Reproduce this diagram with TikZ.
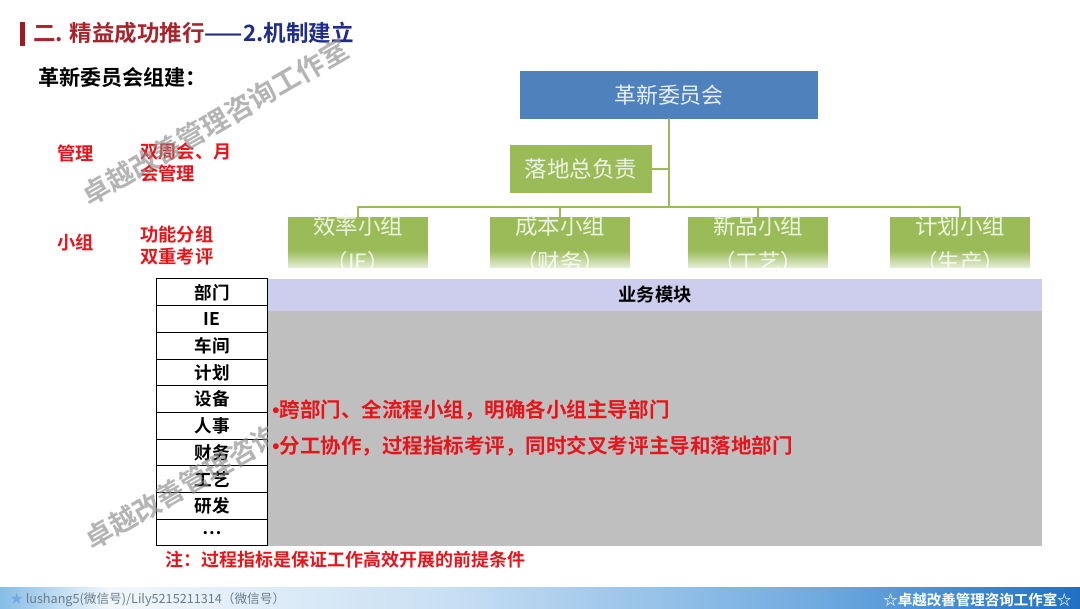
\documentclass[tikz,border=0pt]{standalone}
\usepackage{fontspec}
\setmainfont{Noto Sans CJK SC}[BoldFont={Noto Sans CJK SC Bold}]
\newfontfamily\latinfont{Liberation Sans}
\usetikzlibrary{fadings}

\definecolor{titleRed}{HTML}{A8232B}
\definecolor{titleBlue}{HTML}{1F2D8A}
\definecolor{titleBar}{HTML}{9E1B20}
\definecolor{boardBlue}{HTML}{4F81BD}
\definecolor{leafGreen}{HTML}{9BBB59}
\definecolor{leafText}{HTML}{EEF4E2}
\definecolor{boardText}{HTML}{E8EEF8}
\definecolor{alertRed}{HTML}{E8141B}
\definecolor{modLavender}{HTML}{CDCDEE}
\definecolor{modGray}{HTML}{BFBFBF}
\definecolor{markGray}{HTML}{8C8C8C}
\definecolor{footL}{HTML}{86BDE7}
\definecolor{footW}{HTML}{F2F7FC}
\definecolor{footM}{HTML}{C8DFF3}
\definecolor{footB}{HTML}{6FAAE0}
\definecolor{footD}{HTML}{1E70C2}
\definecolor{footText}{HTML}{6B7C8C}

\tikzfading[name=fogup, top color=transparent!100, bottom color=transparent!0]

\newcommand{\dotmark}{{\latinfont •}}

\begin{document}
\begin{tikzpicture}[
    x=0.025cm,
    y=-0.025cm,
    line cap=round,
    line join=round,
    boardbox/.style={
        fill=boardBlue,
        text=boardText,
        minimum width=7.45cm,
        minimum height=1.2cm,
        inner sep=0pt,
        font=\fontsize{15.6}{18}\selectfont
    },
    leadbox/.style={
        fill=leafGreen,
        text=leafText,
        minimum width=3.55cm,
        minimum height=1.2cm,
        inner sep=0pt,
        font=\fontsize{16}{18}\selectfont
    },
    groupbox/.style={
        fill=leafGreen,
        minimum width=3.5cm,
        minimum height=1.275cm,
        inner sep=0pt
    },
    grouptext/.style={
        text=leafText,
        inner sep=0pt,
        font=\fontsize{16}{18}\selectfont
    },
    link/.style={
        draw=leafGreen,
        line width=2pt
    },
    cell/.style={
        draw=black,
        line width=0.7pt,
        fill=white,
        minimum width=2.75cm,
        minimum height=0.6675cm,
        inner sep=0pt,
        font=\bfseries\fontsize{12.5}{14}\selectfont
    },
    redlabel/.style={
        text=alertRed,
        anchor=west,
        align=left,
        inner sep=0pt,
        font=\bfseries\fontsize{13}{15}\selectfont
    },
    bullet/.style={
        text=alertRed,
        anchor=west,
        inner sep=0pt,
        font=\bfseries\fontsize{14.6}{16}\selectfont
    },
    watermark/.style={
        text=markGray,
        opacity=0.65,
        rotate=30,
        inner sep=0pt,
        font=\bfseries\fontsize{19.5}{20}\selectfont
    }
]
\useasboundingbox (0,0) rectangle (1080,608);

% -------------------------------------------------
% Title and heading
% -------------------------------------------------

\fill[titleBar] (20,22) rectangle (25,46);
\node[anchor=west, inner sep=0pt, font=\bfseries\fontsize{16}{18}\selectfont]
    (title) at (33,33)
    {\color{titleRed}二. 精益成功推行\color{titleBlue}——2.机制建立};

\node[anchor=west, inner sep=0pt, font=\bfseries\fontsize{15}{18}\selectfont]
    (heading) at (38,78) {革新委员会组建：};

% -------------------------------------------------
% Left red labels
% -------------------------------------------------

\node[redlabel] (mgmt) at (57,153) {管理};
\node[redlabel] (mgmtnote) at (140,162.5) {双周会、月\\会管理};
\node[redlabel] (grp) at (57,242) {小组};
\node[redlabel] (grpnote) at (140,245.5) {功能分组\\双重考评};

% -------------------------------------------------
% Committee chart
% -------------------------------------------------

\node[boardbox] (board) at (669,95) {革新委员会};
\node[leadbox] (lead) at (581,169) {落地总负责};

\node[groupbox] (g1) at (358,242.5) {};
\node[groupbox] (g2) at (560,242.5) {};
\node[groupbox] (g3) at (758,242.5) {};
\node[groupbox] (g4) at (960,242.5) {};

\node[grouptext] at ([yshift=-0.225cm]g1.north) {效率小组};
\node[grouptext] at ([yshift=-1.125cm]g1.north) {（IE）};
\node[grouptext] at ([yshift=-0.225cm]g2.north) {成本小组};
\node[grouptext] at ([yshift=-1.125cm]g2.north) {（财务）};
\node[grouptext] at ([yshift=-0.225cm]g3.north) {新品小组};
\node[grouptext] at ([yshift=-1.125cm]g3.north) {（工艺）};
\node[grouptext] at ([yshift=-0.225cm]g4.north) {计划小组};
\node[grouptext] at ([yshift=-1.125cm]g4.north) {（生产）};

% faded lower edge of the group boxes
\fill[white, path fading=fogup] ([yshift=0.45cm]g1.south west) rectangle ([yshift=-0.12cm]g1.south east);
\fill[white, path fading=fogup] ([yshift=0.45cm]g2.south west) rectangle ([yshift=-0.12cm]g2.south east);
\fill[white, path fading=fogup] ([yshift=0.45cm]g3.south west) rectangle ([yshift=-0.12cm]g3.south east);
\fill[white, path fading=fogup] ([yshift=0.45cm]g4.south west) rectangle ([yshift=-0.12cm]g4.south east);

\coordinate (bus) at (669,207);
\draw[link] (board.south) -- (bus);
\draw[link] (lead.east) -- (lead.east -| bus);
\draw[link] (g1.north) |- (bus) -| (g4.north);
\draw[link] (g2.north) -- (g2.north |- bus);
\draw[link] (g3.north) -- (g3.north |- bus);

% -------------------------------------------------
% Department column
% -------------------------------------------------

\node[cell] (d0) at (212,292.3) {部门};
\node[cell] (d1) at (212,319.0) {IE};
\node[cell] (d2) at (212,345.7) {车间};
\node[cell] (d3) at (212,372.4) {计划};
\node[cell] (d4) at (212,399.1) {设备};
\node[cell] (d5) at (212,425.8) {人事};
\node[cell] (d6) at (212,452.5) {财务};
\node[cell] (d7) at (212,479.2) {工艺};
\node[cell] (d8) at (212,505.9) {研发};
\node[cell] (d9) at (212,532.6) {…};

% watermark over the column, under the module area
\node[watermark] (mark2) at (218,466) {卓越改善管理咨询工作室};

% -------------------------------------------------
% Business module area
% -------------------------------------------------

\fill[modLavender] (268,279) rectangle (1042,311);
\fill[modGray] (268,311) rectangle (1042,546);
\node[inner sep=0pt, font=\bfseries\fontsize{13}{15}\selectfont] (module) at (655,295) {业务模块};

\node[bullet] (b1) at (272,410) {\dotmark 跨部门、全流程小组，明确各小组主导部门};
\node[bullet] (b2) at (272,446) {\dotmark 分工协作，过程指标考评，同时交叉考评主导和落地部门};

\node[bullet, font=\bfseries\fontsize{12.8}{15}\selectfont] (note) at (165,560)
    {注：过程指标是保证工作高效开展的前提条件};

% -------------------------------------------------
% Footer band
% -------------------------------------------------

\shade[left color=footL, right color=footW] (0,587) rectangle (110,608);
\shade[left color=footW, right color=footM] (109.5,587) rectangle (450,608);
\shade[left color=footM, right color=footB] (449.5,587) rectangle (820,608);
\shade[left color=footB, right color=footD] (819.5,587) rectangle (1080,608);

\node[anchor=west, inner sep=0pt, text=footText, font=\fontsize{9}{10}\selectfont]
    (contact) at (10,599.5) {{\color{footB}★} lushang5(微信号)/Lily5215211314（微信号）};
\node[anchor=east, inner sep=0pt, text=white, font=\bfseries\fontsize{10.3}{12}\selectfont]
    (studio) at (1072,599.5) {☆卓越改善管理咨询工作室☆};

% -------------------------------------------------
% Watermark over the upper left
% -------------------------------------------------

\node[watermark] (mark1) at (215,122) {卓越改善管理咨询工作室};

\end{tikzpicture}
\end{document}
